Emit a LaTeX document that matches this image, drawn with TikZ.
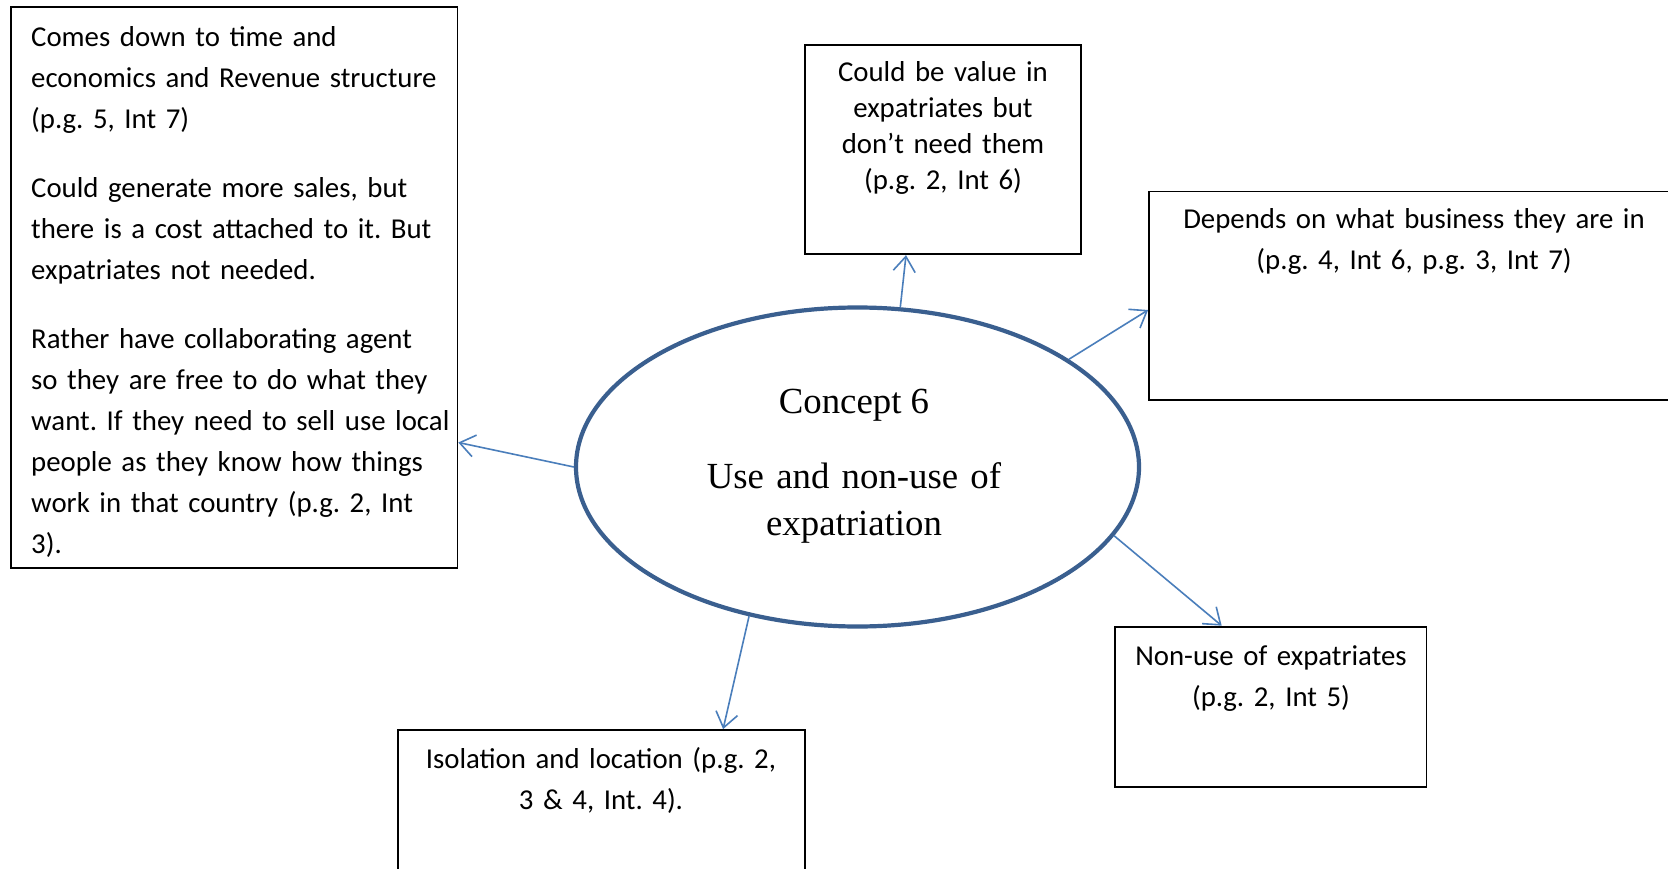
\documentclass[tikz,border=0pt]{standalone}
\usepackage{fontspec}
\setmainfont{Carlito}
\newfontfamily\tnr{Liberation Serif}
\usetikzlibrary{shapes.geometric,arrows.meta,calc}
\frenchspacing
\hyphenpenalty=10000

\definecolor{ringblue}{HTML}{3A5F8F}
\definecolor{linkblue}{HTML}{4A7EBB}

\tikzset{
  notebox/.style={draw=black, line width=1.8pt, rectangle, inner sep=0pt},
  bodytext/.style={inner sep=0pt, font=\fontsize{28.8pt}{41pt}\selectfont},
  concept/.style={draw=ringblue, line width=4.2pt, ellipse, inner sep=0pt,
    minimum width=563pt, minimum height=319pt},
  concepttext/.style={inner sep=0pt, font=\tnr\fontsize{36.8pt}{47pt}\selectfont},
  link/.style={draw=linkblue, line width=1.6pt,
    -{Straight Barb[length=15pt,width=22pt,line width=1.6pt]}}
}

\begin{document}
\begin{tikzpicture}[x=1pt,y=-1pt]
\useasboundingbox (0,0) rectangle (1668,869);
\fill[white] (0,0) rectangle (1668,869);
\clip (0,0) rectangle (1668,869);

% boxes
\node[notebox, minimum width=446.8pt, minimum height=560.6pt] (lbox) at (234,287.7) {};
\node[notebox, minimum width=275.5pt, minimum height=209.5pt] (tbox) at (943,149.5) {};
\node[notebox, minimum width=531pt, minimum height=208.5pt] (rbox) at (1414.5,295.7) {};
\node[notebox, minimum width=311.7pt, minimum height=160.6pt] (brbox) at (1270.7,706.9) {};
\node[notebox, minimum width=407.4pt, minimum height=170pt] (blbox) at (601.6,815) {};

% central concept
\node[concept, fill=white] (ell) at (857.5,467) {};
\node[concepttext, anchor=base] (elltitle) at (854,413) {Concept 6};
\node[concepttext, anchor=base, text width=400pt, align=center] (elltext) at (854,488)
  {Use and non-use of\\expatriation};

% box texts
\node[bodytext, anchor=base west, text width=600pt, align=left] (ltext) at (31,46.5)
  {Comes down to time and\\
   economics and Revenue structure\\
   (p.g. 5, Int 7)\\[28pt]
   Could generate more sales, but\\
   there is a cost attached to it. But\\
   expatriates not needed.\\[28pt]
   Rather have collaborating agent\\
   so they are free to do what they\\
   want. If they need to sell use local\\
   people as they know how things\\
   work in that country (p.g. 2, Int\\
   3).};

\node[bodytext, anchor=base, text width=270pt, align=center,
      font=\fontsize{28.8pt}{36pt}\selectfont] (ttext) at (943,82)
  {Could be value in\\expatriates but\\don’t need them\\(p.g. 2, Int 6)};

\node[bodytext, anchor=base, text width=560pt, align=center] (rtext) at (1414,229)
  {Depends on what business they are in\\(p.g. 4, Int 6, p.g. 3, Int 7)};

\node[bodytext, anchor=base, text width=300pt, align=center] (brtext) at (1271,665)
  {Non-use of expatriates\\(p.g. 2, Int 5)};

\node[bodytext, anchor=base, text width=400pt, align=center] (bltext) at (601,768)
  {Isolation and location (p.g. 2,\\3 \& 4, Int. 4).};

% connectors
\draw[link] (ell.180) -- ($(lbox.east)+(0,154.8)$);
\draw[link] (ell.75.5) -- ($(tbox.south)+(-37,0)$);
\draw[link] (ell.27.6) -- ($(rbox.west)+(0,14.3)$);
\draw[link] (ell.-15.9) -- ($(brbox.north)+(-49,0)$);
\draw[link] (ell.234.8) -- ($(blbox.north)+(121.5,0)$);
\end{tikzpicture}
\end{document}
